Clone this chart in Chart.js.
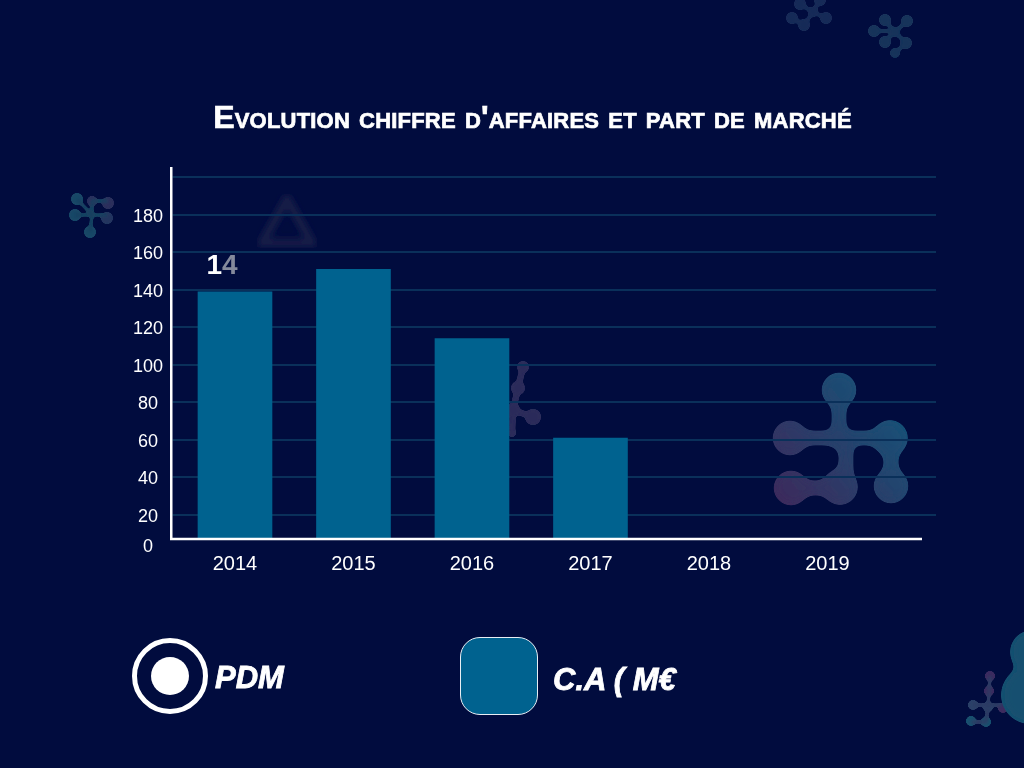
<!DOCTYPE html>
<html lang="fr">
<head>
  <meta charset="UTF-8" />
  <title>Evolution chiffre d'affaires et part de marché</title>
  <script src="https://cdn.jsdelivr.net/npm/chart.js"></script>
  <style>
    body {
      background-color: #010c3e;
      margin: 0;
      width: 1024px;
      height: 768px;
      overflow: hidden;
      position: relative;
      font-family: 'Liberation Sans', sans-serif;
      color: #fff;
    }

    #decor, #chart {
      position: absolute;
      left: 0;
      top: 0;
    }

    h1 {
      position: absolute;
      left: 0;
      top: 99px;
      width: 1065px;
      margin: 0;
      text-align: center;
      font-size: 32px;
      line-height: 36px;
      font-weight: bold;
      font-variant: small-caps;
      letter-spacing: 0.2px;
      -webkit-text-stroke: 0.7px #fff;
      white-space: nowrap;
    }

    .legend-text {
      position: absolute;
      font-size: 31px;
      line-height: 36px;
      font-weight: bold;
      font-style: italic;
      -webkit-text-stroke: 0.8px #fff;
      white-space: nowrap;
    }

    .ring {
      position: absolute;
      left: 132px;
      top: 638px;
      width: 66px;
      height: 66px;
      border: 5px solid #fff;
      border-radius: 50%;
    }

    .ring::after {
      content: "";
      position: absolute;
      left: 14px;
      top: 14px;
      width: 38px;
      height: 38px;
      background: #fff;
      border-radius: 50%;
    }

    .swatch {
      position: absolute;
      left: 460px;
      top: 637px;
      width: 76px;
      height: 76px;
      background: #00628f;
      border: 1px solid #e8eef4;
      border-radius: 20px;
    }
  </style>
</head>
<body>
  <svg id="decor" width="1024" height="768">
    <defs>
      <filter id="gooBig" x="-30%" y="-30%" width="160%" height="160%">
        <feGaussianBlur stdDeviation="5" />
        <feColorMatrix values="1 0 0 0 0  0 1 0 0 0  0 0 1 0 0  0 0 0 16 -7" />
      </filter>
      <filter id="goo" x="-30%" y="-30%" width="160%" height="160%">
        <feGaussianBlur stdDeviation="1.6" />
        <feColorMatrix values="1 0 0 0 0  0 1 0 0 0  0 0 1 0 0  0 0 0 8 -3" />
      </filter>
      <filter id="soft"><feGaussianBlur stdDeviation="3" /></filter>
      <linearGradient id="bigGrad" gradientUnits="userSpaceOnUse" x1="900" y1="400" x2="780" y2="500">
        <stop offset="0" stop-color="#145479" />
        <stop offset="1" stop-color="#3c2a5c" />
      </linearGradient>
    </defs>
    <!-- big molecule, right of the plot -->
    <g filter="url(#gooBig)" fill="url(#bigGrad)">
      <circle cx="839" cy="390" r="17.5" /><circle cx="790" cy="438" r="17.5" />
      <circle cx="890" cy="438" r="18" /><circle cx="791" cy="488" r="17.5" />
      <circle cx="840" cy="487" r="18" /><circle cx="891" cy="486" r="17.5" />
      <circle cx="839" cy="438" r="11" />
      <path d="M832 390h14v41h44v14h-37v42h-14v-42h-49v-14h42z" />
      <path d="M884 438h14v48h-14z" />
      <path d="M791 481h49v14h-49z" />
    </g>
    <!-- small ones scattered around -->
    <g filter="url(#goo)" opacity="0.75">
      <g fill="#1e3560">
        <circle cx="800" cy="4" r="6" /><circle cx="792" cy="18" r="6" /><circle cx="804" cy="25" r="6" />
        <circle cx="826" cy="18" r="6" /><circle cx="820" cy="0" r="6" /><circle cx="813" cy="12" r="5" />
      </g>
      <path d="M800 4L813 12L826 18M813 12L804 25L792 18M813 12L820 0" stroke="#1e3560" stroke-width="3.5" fill="none" />
    </g>
    <g filter="url(#goo)" opacity="0.8">
      <g fill="#1a3c62">
        <circle cx="885" cy="20" r="6" /><circle cx="907" cy="21" r="6" /><circle cx="874" cy="31" r="6" />
        <circle cx="885" cy="42" r="6" /><circle cx="906" cy="43" r="6" /><circle cx="895" cy="53" r="5" />
        <circle cx="895" cy="32" r="5" />
      </g>
      <path d="M885 20L895 32L907 21M874 31H895L885 42M895 32L906 43L895 53" stroke="#1a3c62" stroke-width="3.5" fill="none" />
    </g>
    <g filter="url(#goo)">
      <circle cx="77" cy="199" r="6" fill="#164766" /><circle cx="92" cy="201" r="5" fill="#2a2f5c" /><circle cx="108" cy="203" r="6" fill="#2a2f5c" />
      <circle cx="75" cy="215" r="6" fill="#164766" /><circle cx="107" cy="218" r="6" fill="#24345f" /><circle cx="90" cy="232" r="6" fill="#164766" />
      <path d="M77 199L92 215L92 201H108M75 215H107M92 215L90 232" stroke="#174060" stroke-width="3" fill="none" />
    </g>
    <g filter="url(#goo)" fill="#2a2c5a">
      <circle cx="523" cy="367" r="6" /><circle cx="518" cy="388" r="7" /><circle cx="533" cy="417" r="8" />
      <circle cx="513" cy="410" r="7" /><circle cx="512" cy="433" r="4" />
      <path d="M523 367L518 388L513 410L533 417M513 410L512 433" stroke="#2a2c5a" stroke-width="6" fill="none" />
    </g>
    <g filter="url(#goo)">
      <circle cx="990" cy="676" r="5" fill="#3a2a5e" /><circle cx="989" cy="691" r="5" fill="#3a2a5e" /><circle cx="988" cy="707" r="5" fill="#2a4068" />
      <circle cx="973" cy="705" r="5" fill="#2a4068" /><circle cx="1003" cy="708" r="5" fill="#3a2a5e" />
      <circle cx="971" cy="721" r="5" fill="#174f6e" /><circle cx="986" cy="722" r="5" fill="#174f6e" />
      <path d="M990 676L988 707M973 705H1003M988 707L986 722H971" stroke="#2a3a64" stroke-width="3" fill="none" />
    </g>
    <g filter="url(#gooBig)" fill="#14506f">
      <circle cx="1032" cy="652" r="22" /><circle cx="1030" cy="695" r="29" />
      <rect x="1016" y="650" width="20" height="45" />
    </g>
    <!-- faded triangle behind the label -->
    <path d="M287 199L262 243H312Z" fill="none" stroke="#141d47" stroke-width="9" stroke-linejoin="round" filter="url(#soft)" />
  </svg>

  <canvas id="chart" width="1024" height="768"></canvas>

  <h1>Evolution chiffre d'affaires et part de marché</h1>

  <div class="ring"></div>
  <div class="legend-text" style="left:215px; top:660px;">PDM</div>
  <div class="swatch"></div>
  <div class="legend-text" style="left:553px; top:662px;">C.A ( M€</div>

  <script>
    const years = [2014, 2015, 2016, 2017, 2018, 2019];
    const caValues = [139, 151, 114, 61, null, null];
    const yTickValues = [20, 40, 60, 80, 100, 120, 140, 160, 180, 200];
    const pdmLabel = ['1', '4'];

    // the axis does not start at a round value: the "0" label sits on the baseline
    const yBase = 7.2;
    const yTop = 205;

    // baseline stops short of the grid lines, and the half faded label over 2014
    const overlay = {
      id: 'overlay',
      afterDatasetsDraw(chart) {
        const { ctx, scales } = chart;
        const y0 = scales.y.getPixelForValue(yBase);
        ctx.save();
        ctx.strokeStyle = '#ffffff';
        ctx.lineWidth = 2.5;
        ctx.beginPath();
        ctx.moveTo(170, y0);
        ctx.lineTo(922, y0);
        ctx.stroke();

        const bar = chart.getDatasetMeta(0).data[0];
        ctx.font = 'bold 28px "Liberation Sans"';
        ctx.textBaseline = 'middle';
        ctx.textAlign = 'right';
        ctx.fillStyle = '#ffffff';
        ctx.fillText(pdmLabel[0], bar.x - 13, bar.y - 26);
        ctx.textAlign = 'left';
        ctx.fillStyle = '#858a9c';
        ctx.fillText(pdmLabel[1], bar.x - 13, bar.y - 26);
        ctx.restore();
      }
    };

    new Chart(document.getElementById('chart'), {
      type: 'bar',
      data: {
        datasets: [{
          label: 'C.A ( M€',
          data: years.map((y, i) => ({ x: y, y: caValues[i] })),
          backgroundColor: '#00628f',
          barThickness: 74
        }]
      },
      plugins: [overlay],
      options: {
        responsive: false,
        animation: false,
        layout: { padding: { left: 100, top: 168, right: 88, bottom: 179 } },
        plugins: {
          legend: { display: false },
          tooltip: { enabled: false }
        },
        scales: {
          x: {
            type: 'linear',
            offset: false,
            min: 2013.46,
            max: 2019.916,
            afterBuildTicks(scale) {
              scale.ticks = years.map(v => ({ value: v }));
            },
            afterFit(scale) { scale.height = 50; },
            grid: { display: false, offset: false },
            border: { display: false },
            ticks: {
              color: '#ffffff',
              padding: 5,
              font: { family: 'Liberation Sans', size: 20 },
              maxRotation: 0,
              callback: v => String(v)
            }
          },
          y: {
            min: yBase,
            max: yTop,
            afterBuildTicks(scale) {
              scale.ticks = [yBase, ...yTickValues].map(v => ({ value: v }));
            },
            afterFit(scale) { scale.width = 71; },
            grid: {
              color: ctx => (ctx.tick && ctx.tick.value === yBase ? 'transparent' : '#0a305a'),
              lineWidth: 2,
              drawTicks: false
            },
            border: { display: true, color: '#ffffff', width: 2.5 },
            ticks: {
              color: '#ffffff',
              padding: 8,
              labelOffset: 2,
              crossAlign: 'center',
              font: { family: 'Liberation Sans', size: 18, lineHeight: 0.65 },
              callback(v) {
                if (v === yBase) return ['', '0'];
                return v === 200 ? '' : String(v);
              }
            }
          }
        }
      }
    });
  </script>
</body>
</html>
